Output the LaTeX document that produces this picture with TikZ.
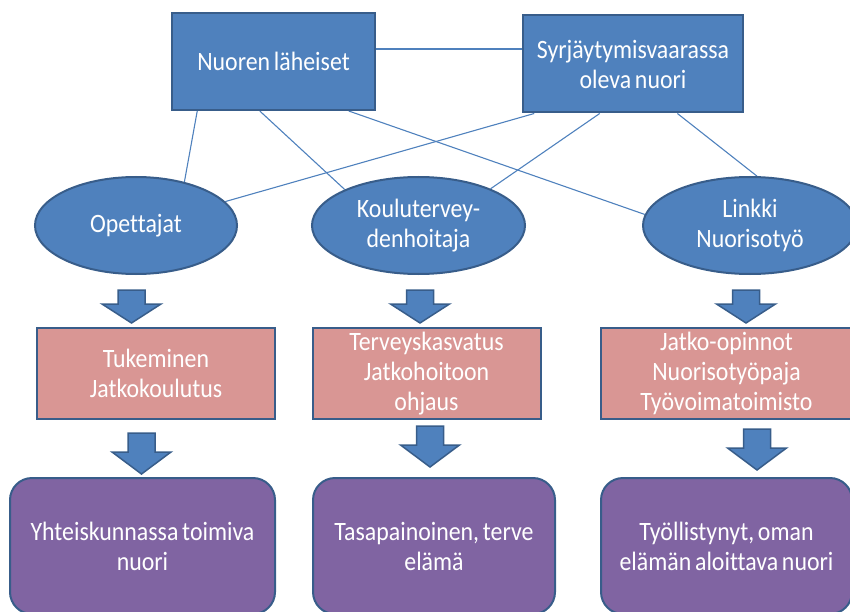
\documentclass[tikz,border=0pt]{standalone}
\usepackage{fontspec}
\setmainfont{Carlito}[FakeStretch=0.9, Ligatures=NoCommon, WordSpace=0.7]
\usetikzlibrary{shapes.geometric,backgrounds,calc}
\definecolor{bfill}{HTML}{4F81BD}
\definecolor{bline}{HTML}{385D8A}
\definecolor{pfill}{HTML}{D99694}
\definecolor{vfill}{HTML}{8064A2}
\begin{document}
\begin{tikzpicture}[x=1pt,y=-1pt,
  base/.style={draw=bline, line width=2pt, text=white, align=center, inner sep=0pt,
    font=\fontsize{26.5}{30}\selectfont},
  topbox/.style={base, rectangle, fill=bfill, minimum height=97pt},
  oval/.style={base, ellipse, fill=bfill, minimum height=97pt},
  pinkbox/.style={base, rectangle, fill=pfill, minimum height=91pt},
  goalbox/.style={base, rectangle, rounded corners=22pt, fill=vfill, minimum height=136pt},
  conn/.style={draw=bfill, line width=1.1pt},
  arrowbody/.style={fill=bfill, draw=bline, line width=1.5pt, line join=miter},
  pics/barrow/.style n args={2}{code={
    \path[arrowbody] (-13.5,0) -- (13.5,0) -- (13.5,#1) -- (29.5,#1) -- (0,#1+#2)
      -- (-29.5,#1) -- (-13.5,#1) -- cycle;}}
]
\useasboundingbox (0,0) rectangle (850,612);
\clip (0,0) rectangle (850,612);

\node[topbox, minimum width=203pt] (nl) at (273.5,61.5) {Nuoren läheiset};
\node[topbox, minimum width=220pt] (sy) at (633,64) {Syrjäytymisvaarassa\\oleva nuori};

\node[oval, minimum width=202pt] (op) at (136,225.5) {Opettajat};
\node[oval, minimum width=213pt] (ko) at (418.5,225.5) {Koulutervey-\\denhoitaja};
\node[oval, minimum width=214pt] (li) at (750,225.5) {Linkki\\Nuorisotyö};

\node[pinkbox, minimum width=238pt] (t1) at (156,373.5) {Tukeminen\\Jatkokoulutus};
\node[pinkbox, minimum width=228pt] (t2) at (426.5,373.5) {Terveyskasvatus\\Jatkohoitoon\\ohjaus};
\node[pinkbox, minimum width=252pt] (t3) at (726.5,373.5) {Jatko-opinnot\\Nuorisotyöpaja\\Työvoimatoimisto};

\node[goalbox, minimum width=265pt] (g1) at (142.5,546) {Yhteiskunnassa toimiva\\nuori};
\node[goalbox, minimum width=242pt] (g2) at (434,546) {Tasapainoinen, terve\\elämä};
\node[goalbox, minimum width=251pt] (g3) at (726.5,546) {Työllistynyt, oman\\elämän aloittava nuori};

\pic (a1) at (131.5,290) {barrow={14}{19}};
\pic (a2) at (420,290) {barrow={14}{19}};
\pic (a3) at (746,290) {barrow={14}{19}};
\pic (b1) at (141.5,433) {barrow={19}{22}};
\pic (b2) at (430,426) {barrow={19}{22}};
\pic (b3) at (757,429) {barrow={19}{22}};

\begin{scope}[on background layer]
\coordinate (hy) at (0,49);
\draw[conn] (nl.east |- hy) -- (sy.west |- hy);
\draw[conn] ($(nl.south west)!0.128!(nl.south east)$) -- (op.42);
\draw[conn] ($(nl.south west)!0.433!(nl.south east)$) -- (ko.154);
\draw[conn] ($(nl.south west)!0.867!(nl.south east)$) -- (li.174);
\draw[conn] ($(sy.south west)!0.055!(sy.south east)$) -- (op.15);
\draw[conn] ($(sy.south west)!0.35!(sy.south east)$) -- (ko.27);
\draw[conn] ($(sy.south west)!0.70!(sy.south east)$) -- (li.82);
\end{scope}
\end{tikzpicture}
\end{document}
